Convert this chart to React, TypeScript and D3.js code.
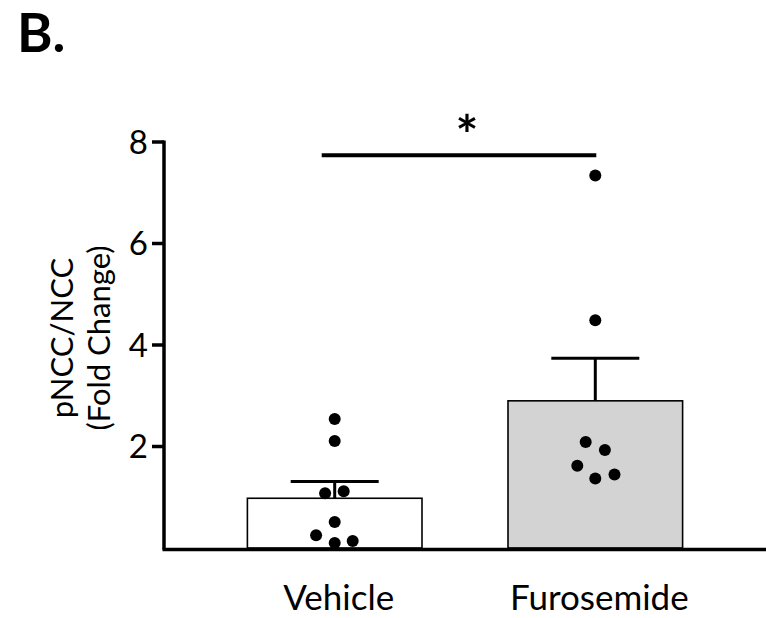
import React from 'react';
import * as d3 from 'd3';

// group names and summary values (mean, SEM)
const categories = ['Vehicle', 'Furosemide'];
const means = [0.98, 2.9];
const sems = [0.33, 0.84];
const barFills = ['#ffffff', '#d3d3d3'];

// individual animals, with horizontal dodge in dot diameters
const vehiclePoints = [2.54, 2.11, 1.08, 1.12, 0.51, 0.25, 0.1, 0.14];
const vehicleOffsets = [0, 0, -0.8, 0.75, 0, -1.55, 0, 1.5];
const furosemidePoints = [7.34, 4.49, 2.09, 1.93, 1.62, 1.37, 1.45];
const furosemideOffsets = [0, 0, -0.8, 0.8, -1.5, 0, 1.6];

const yTicks = [2, 4, 6, 8];
const sigLevel = 7.74;

const width = 766;
const height = 618;
const margin = { top: 142, right: 0, bottom: 70, left: 164 };
const font = 'Lato, "Open Sans", sans-serif';

const App: React.FC = () => {
  const xScale = d3.scaleBand<string>()
    .domain(categories)
    .range([margin.left, width - margin.right])
    .paddingInner(0.33)
    .paddingOuter(0.32);

  const yScale = d3.scaleLinear()
    .domain([0, 8])
    .range([height - margin.bottom, margin.top]);

  const bw = xScale.bandwidth();
  const cx = (c: string) => (xScale(c) as number) + bw / 2;
  const dotR = 6;

  const groups = [
    { name: categories[0], values: vehiclePoints, offsets: vehicleOffsets },
    { name: categories[1], values: furosemidePoints, offsets: furosemideOffsets },
  ];

  const y0 = yScale(0);

  return (
    <svg
      width={width}
      height={height}
      style={{ position: 'absolute', left: 0, top: 0, background: '#fff' }}
    >
      {/* panel letter */}
      <text x={17} y={52} fontFamily={font} fontWeight="bold" fontSize={54}>B.</text>

      {/* bars */}
      {categories.map((c, i) => (
        <rect
          key={c}
          x={xScale(c)}
          y={yScale(means[i])}
          width={bw}
          height={y0 - yScale(means[i])}
          fill={barFills[i]}
          stroke="#000"
          strokeWidth={1.6}
        />
      ))}

      {/* error bars (upper only) */}
      {categories.map((c, i) => (
        <g key={`err-${c}`} stroke="#000" strokeWidth={3}>
          <line x1={cx(c)} x2={cx(c)} y1={yScale(means[i])} y2={yScale(means[i] + sems[i])} />
          <line x1={cx(c) - 44} x2={cx(c) + 44} y1={yScale(means[i] + sems[i])} y2={yScale(means[i] + sems[i])} />
        </g>
      ))}

      {/* individual points */}
      {groups.map(g =>
        g.values.map((v, j) => (
          <circle
            key={`${g.name}-${j}`}
            cx={cx(g.name) + g.offsets[j] * dotR * 2}
            cy={yScale(v)}
            r={dotR}
            fill="#000"
          />
        ))
      )}

      {/* axes */}
      <line x1={margin.left} x2={margin.left} y1={yScale(8) - 1.5} y2={y0 + 1.5} stroke="#000" strokeWidth={3.5} />
      <line x1={margin.left - 1.5} x2={width} y1={y0 + 1.5} y2={y0 + 1.5} stroke="#000" strokeWidth={3.5} />
      {yTicks.map(t => (
        <g key={t}>
          <line x1={margin.left - 12} x2={margin.left} y1={yScale(t)} y2={yScale(t)} stroke="#000" strokeWidth={3.5} />
          <text
            x={margin.left - 16}
            y={yScale(t)}
            dy="0.36em"
            textAnchor="end"
            fontFamily={font}
            fontSize={33}
          >
            {t}
          </text>
        </g>
      ))}

      {/* y label */}
      <text
        transform={`translate(62, 338) rotate(-90)`}
        textAnchor="middle"
        fontFamily={font}
        fontSize={31}
      >
        <tspan x={0} dy="0.35em">pNCC/NCC</tspan>
        <tspan x={0} dy="1.2em">(Fold Change)</tspan>
      </text>

      {/* x labels */}
      {categories.map(c => (
        <text
          key={`lbl-${c}`}
          x={cx(c) + 4}
          y={610}
          textAnchor="middle"
          fontFamily={font}
          fontSize={35}
        >
          {c}
        </text>
      ))}

      {/* significance */}
      <line
        x1={cx(categories[0]) - 13}
        x2={cx(categories[1]) + 1}
        y1={yScale(sigLevel)}
        y2={yScale(sigLevel)}
        stroke="#000"
        strokeWidth={4}
      />
      <text
        x={(cx(categories[0]) + cx(categories[1])) / 2 + 2}
        y={yScale(sigLevel) - 1}
        textAnchor="middle"
        fontFamily={font}
        fontWeight="bold"
        fontSize={54}
      >
        *
      </text>
    </svg>
  );
};

export default App;
